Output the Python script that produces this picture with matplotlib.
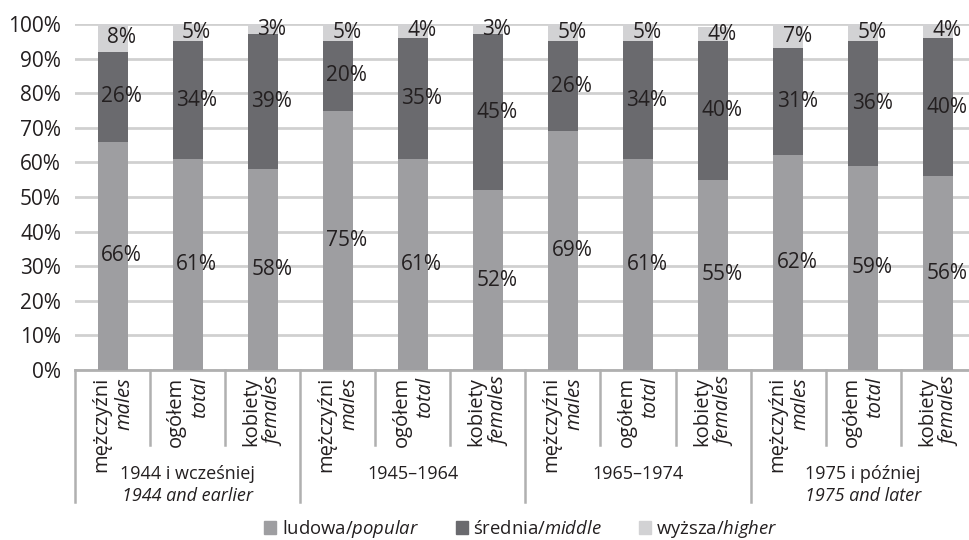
import matplotlib
matplotlib.use('Agg')
import matplotlib.pyplot as plt
import matplotlib.transforms as mtransforms
from matplotlib.patches import Patch
import numpy as np

plt.rcParams['font.family'] = ['Open Sans', 'DejaVu Sans']
plt.rcParams['mathtext.fontset'] = 'custom'
plt.rcParams['mathtext.rm'] = 'Open Sans'
plt.rcParams['mathtext.it'] = 'Open Sans:italic'

# data
groups_pl = ['1944 i wcześniej', '1945–1964', '1965–1974', '1975 i później']
groups_en = ['1944 and earlier', '', '', '1975 and later']
sub_pl = ['mężczyźni', 'ogółem', 'kobiety']
sub_en = ['males', 'total', 'females']
popular = [66, 61, 58, 75, 61, 52, 69, 61, 55, 62, 59, 56]
middle = [26, 34, 39, 20, 35, 45, 26, 34, 40, 31, 36, 40]
higher = [8, 5, 3, 5, 4, 3, 5, 5, 4, 7, 5, 4]
legend_labels = [r'ludowa/$\it{popular}$', r'średnia/$\it{middle}$', r'wyższa/$\it{higher}$']

c_pop = '#9e9ea1'
c_mid = '#6a6a6e'
c_high = '#d2d2d4'
grid_c = '#d0d0d0'
txt_c = '#231f20'

fig = plt.figure(figsize=(9.69, 5.4), dpi=100)
ax = fig.add_axes([75 / 969, 170 / 540, 894 / 969, 346 / 540])

x = np.arange(len(popular))
pop = np.array(popular)
mid = np.array(middle)
hig = np.array(higher)
w = 0.4
ax.bar(x, pop, w, color=c_pop, zorder=3)
ax.bar(x, mid, w, bottom=pop, color=c_mid, zorder=3)
ax.bar(x, hig, w, bottom=pop + mid, color=c_high, zorder=3)

for i in range(len(x)):
    for val, bot in [(pop[i], 0), (mid[i], pop[i]), (hig[i], pop[i] + mid[i])]:
        ax.annotate(f'{val}%', (x[i], bot + val / 2), xytext=(6.5, 0),
                    textcoords='offset points', ha='center', va='center',
                    fontsize=15, color=txt_c, zorder=5)

ax.set_ylim(0, 100)
ax.set_xlim(-0.5, 11.41)
ax.set_yticks(range(0, 101, 10))
ax.set_yticklabels([f'{v}%' for v in range(0, 101, 10)], fontsize=15, color=txt_c)
ax.tick_params(axis='y', length=0, pad=10)
ax.set_xticks([])
ax.yaxis.grid(True, color=grid_c, linewidth=2, zorder=0)
for s in ['top', 'right', 'left']:
    ax.spines[s].set_visible(False)
ax.spines['bottom'].set_color('#b0b0b0')
ax.spines['bottom'].set_linewidth(2)

# hierarchical category labels
tr = mtransforms.blended_transform_factory(ax.transData, ax.transAxes)
py = 1 / 346
for k in range(13):
    xs = k - 0.5
    y_end = -132 * py if k % 3 == 0 else -75 * py
    ax.plot([xs, xs], [0, y_end], transform=tr, color='#b0b0b0', lw=1.8, clip_on=False)

for i in range(len(x)):
    ax.text(x[i] - 0.15, -7 * py, sub_pl[i % 3], transform=tr, rotation=90,
            ha='center', va='top', fontsize=14.5, color=txt_c)
    ax.text(x[i] + 0.16, -7 * py, sub_en[i % 3], transform=tr, rotation=90,
            ha='center', va='top', fontsize=14.5, style='italic', color=txt_c)

for g in range(4):
    gx = g * 3 + 1
    ax.text(gx, -104 * py, groups_pl[g], transform=tr, ha='center', va='center',
            fontsize=13, color=txt_c)
    if groups_en[g]:
        ax.text(gx, -126 * py, groups_en[g], transform=tr, ha='center', va='center',
                fontsize=13, style='italic', color=txt_c)

handles = [Patch(color=c) for c in [c_pop, c_mid, c_high]]
fig.legend(handles, legend_labels, loc='center', bbox_to_anchor=(521 / 969, 1 - 529 / 540),
           ncol=3, frameon=False, fontsize=13.3, handlelength=0.65, handleheight=0.65,
           handletextpad=0.3, columnspacing=2.0, labelcolor=txt_c)

fig.savefig('out.png', dpi=100)
